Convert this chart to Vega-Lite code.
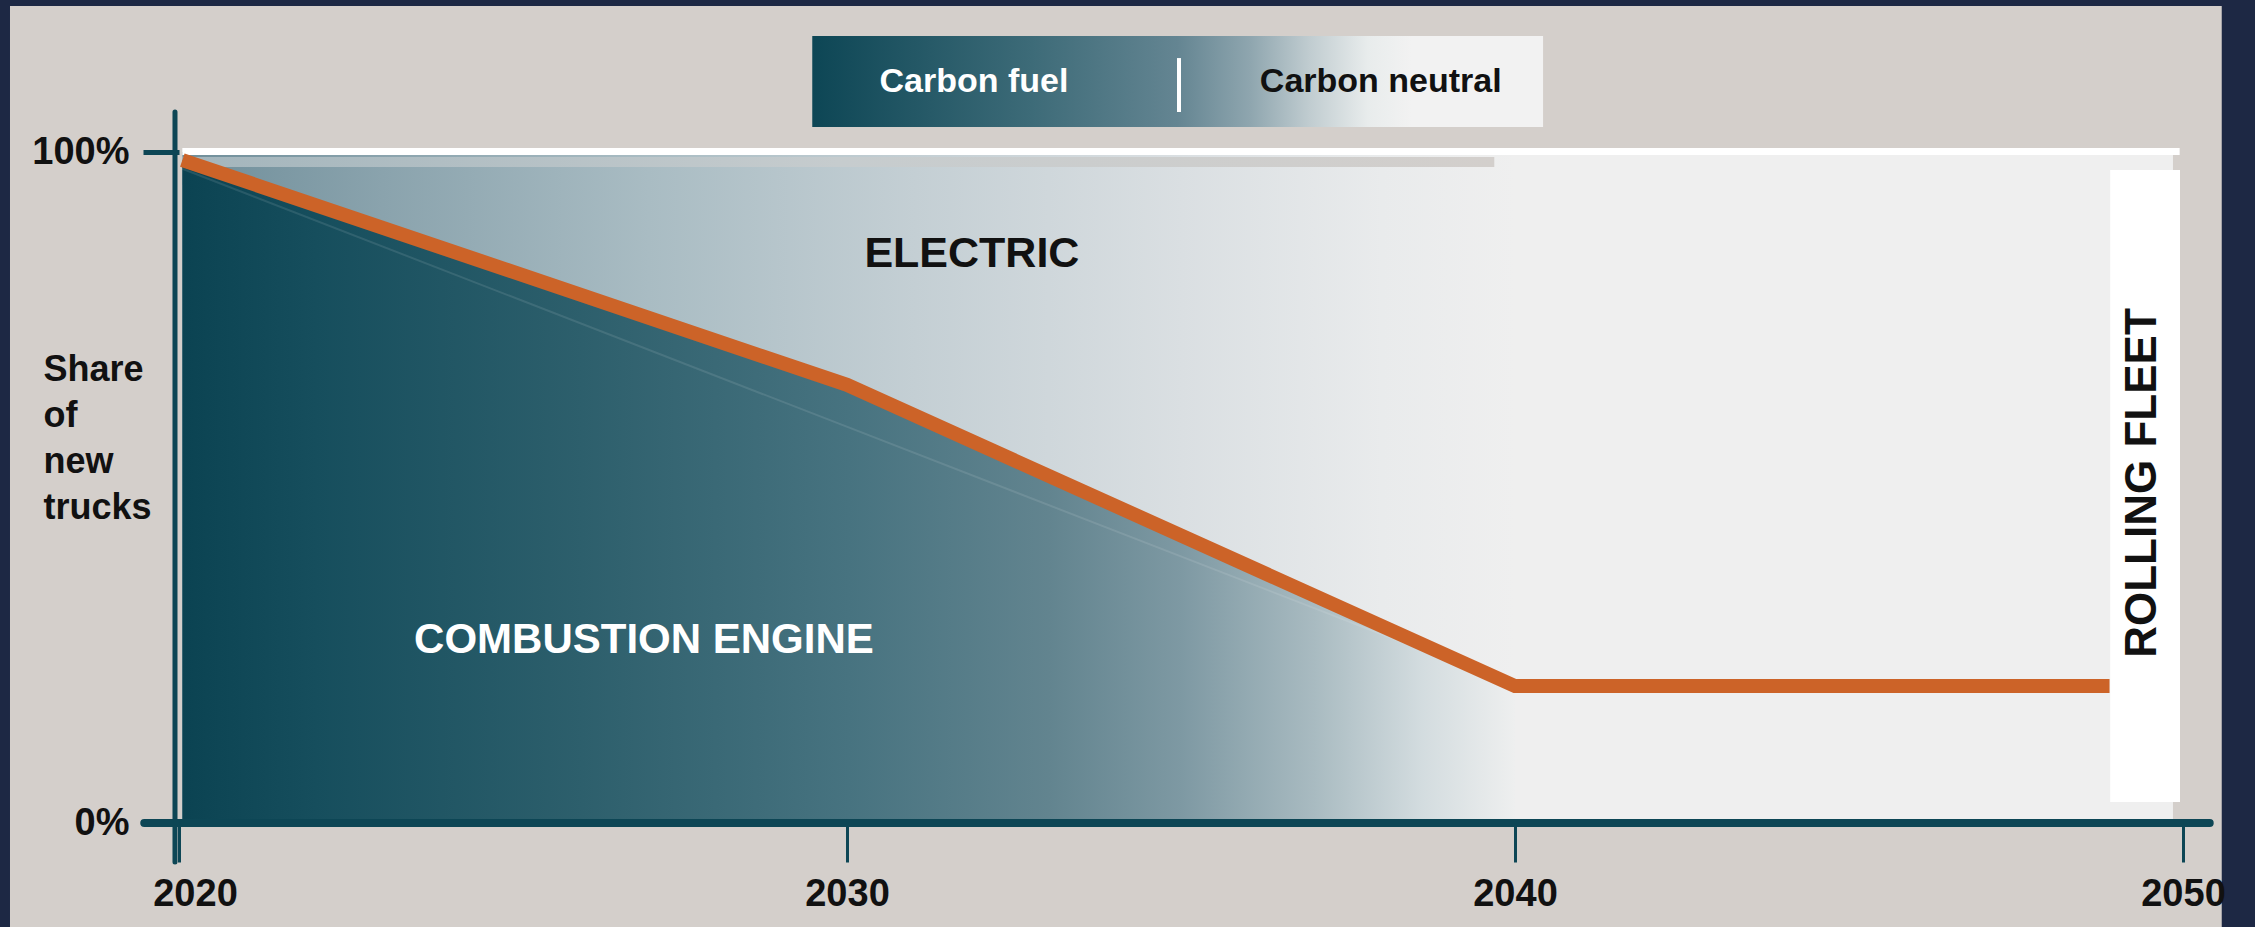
{
  "$schema": "https://vega.github.io/schema/vega-lite/v6.json",
  "width": 2004,
  "height": 671,
  "autosize": {"type": "none"},
  "padding": {"left": 179, "top": 152, "right": 72, "bottom": 104},
  "background": "#1d2844",
  "config": {
    "view": {"stroke": null},
    "font": "Liberation Sans"
  },
  "datasets": {
    "combustion": [
      {"year": 2020.05, "share": 98.8},
      {"year": 2030, "share": 65.3},
      {"year": 2040, "share": 20.4}
    ],
    "orange": [
      {"year": 2020.05, "share": 98.8},
      {"year": 2030, "share": 65.3},
      {"year": 2040, "share": 20.4},
      {"year": 2048.9, "share": 20.4}
    ],
    "chord": [
      {"year": 2020.05, "share": 97.5},
      {"year": 2040, "share": 20.4}
    ]
  },
  "layer": [
    {
      "data": {"values": [{}]},
      "mark": {"type": "rect", "color": "#d4cfcb"},
      "encoding": {
        "x": {"datum": 2017.47, "type": "quantitative"},
        "x2": {"datum": 2050.58},
        "y": {"datum": 121.76, "type": "quantitative"},
        "y2": {"datum": -15.6}
      }
    },
    {
      "data": {"values": [{}]},
      "mark": {"type": "rect", "color": "#efefef"},
      "encoding": {
        "x": {"datum": 2020.05, "type": "quantitative"},
        "x2": {"datum": 2049.85},
        "y": {"datum": 100, "type": "quantitative"},
        "y2": {"datum": 0}
      }
    },
    {
      "data": {"values": [{}]},
      "mark": {
        "type": "rect",
        "color": {
          "gradient": "linear", "x1": 0, "y1": 0, "x2": 1, "y2": 0,
          "stops": [
            {"offset": 0, "color": "#6f8e9a"},
            {"offset": 0.15, "color": "#8aa3ad"},
            {"offset": 0.35, "color": "#a9bcc3"},
            {"offset": 0.55, "color": "#c4cfd4"},
            {"offset": 0.75, "color": "#dadfe2"},
            {"offset": 0.9, "color": "#e9ebec"},
            {"offset": 1, "color": "#efefef"}
          ]
        }
      },
      "encoding": {
        "x": {"datum": 2020.05, "type": "quantitative"},
        "x2": {"datum": 2040},
        "y": {"datum": 100, "type": "quantitative"},
        "y2": {"datum": 0}
      }
    },
    {
      "data": {"name": "combustion"},
      "mark": {
        "type": "area",
        "color": {
          "gradient": "linear", "x1": 0, "y1": 0, "x2": 1, "y2": 0,
          "stops": [
            {"offset": 0, "color": "#0b4352"},
            {"offset": 0.1, "color": "#164e5d"},
            {"offset": 0.3, "color": "#2d5f6c"},
            {"offset": 0.5, "color": "#477380"},
            {"offset": 0.65, "color": "#62848f"},
            {"offset": 0.75, "color": "#7e99a3"},
            {"offset": 0.85, "color": "#a9bbc1"},
            {"offset": 0.93, "color": "#d3dcdf"},
            {"offset": 1, "color": "#eeefef"}
          ]
        }
      },
      "encoding": {
        "x": {"field": "year", "type": "quantitative"},
        "y": {"field": "share", "type": "quantitative"}
      }
    },
    {
      "data": {"name": "chord"},
      "mark": {"type": "line", "color": "#ffffff", "opacity": 0.1, "strokeWidth": 2},
      "encoding": {
        "x": {"field": "year", "type": "quantitative"},
        "y": {"field": "share", "type": "quantitative"}
      }
    },
    {
      "data": {"values": [{}]},
      "mark": {
        "type": "rect",
        "color": {
          "gradient": "linear", "x1": 0, "y1": 0, "x2": 1, "y2": 0,
          "stops": [
            {"offset": 0, "color": "#a3b5bc"},
            {"offset": 0.5, "color": "#c6ccce"},
            {"offset": 1, "color": "#d3cfcc"}
          ]
        }
      },
      "encoding": {
        "x": {"datum": 2020.05, "type": "quantitative"},
        "x2": {"datum": 2039.69},
        "y": {"datum": 99.25, "type": "quantitative"},
        "y2": {"datum": 97.76}
      }
    },
    {
      "data": {"values": [{}]},
      "mark": {"type": "rule", "color": "#ffffff", "strokeWidth": 7},
      "encoding": {
        "x": {"datum": 2020.05, "type": "quantitative"},
        "x2": {"datum": 2049.95},
        "y": {"datum": 100.07, "type": "quantitative"}
      }
    },
    {
      "data": {"values": [{}]},
      "mark": {"type": "rect", "color": "#ffffff"},
      "encoding": {
        "x": {"datum": 2048.91, "type": "quantitative"},
        "x2": {"datum": 2049.955},
        "y": {"datum": 97.32, "type": "quantitative"},
        "y2": {"datum": 3.13}
      }
    },
    {
      "data": {"name": "orange"},
      "mark": {"type": "line", "color": "#cc6328", "strokeWidth": 14, "strokeCap": "butt", "strokeJoin": "miter"},
      "encoding": {
        "x": {
          "field": "year",
          "type": "quantitative",
          "scale": {"domain": [2020, 2050], "nice": false, "zero": false},
          "axis": {
            "zindex": 3,
            "values": [2020, 2030, 2040, 2050],
            "format": "d",
            "title": "",
            "domain": false,
            "grid": false,
            "ticks": true,
            "tickSize": 39,
            "tickWidth": 3,
            "tickColor": "#0d4655",
            "labelFont": "Liberation Sans",
            "labelFontSize": 38,
            "labelFontWeight": "bold",
            "labelColor": "#111111",
            "labelPadding": 13,
            "labelFlush": false,
            "labelAlign": "center",
            "labelOffset": {"condition": {"test": "datum.value == 2020", "value": 16}, "value": 0}
          }
        },
        "y": {
          "field": "share",
          "type": "quantitative",
          "scale": {"domain": [0, 100], "nice": false, "zero": false},
          "axis": {
            "zindex": 3,
            "values": [0, 100],
            "labelExpr": "datum.value + '%'",
            "domain": false,
            "grid": false,
            "ticks": true,
            "tickSize": 36,
            "tickWidth": 5,
            "tickColor": "#0d4655",
            "labelFont": "Liberation Sans",
            "labelFontSize": 38,
            "labelFontWeight": "bold",
            "labelColor": "#111111",
            "labelPadding": 14,
            "labelFlush": false,
            "title": ["Share", "of", "new", "trucks"],
            "titleFont": "Liberation Sans",
            "titleAngle": 0,
            "titleAlign": "left",
            "titleBaseline": "alphabetic",
            "titleX": -136,
            "titleY": 228,
            "titleFontSize": 36,
            "titleLineHeight": 46,
            "titleFontWeight": "bold",
            "titleColor": "#111111"
          }
        }
      }
    },
    {
      "data": {"values": [{}]},
      "mark": {"type": "rule", "color": "#0d4655", "strokeWidth": 5, "strokeCap": "round"},
      "encoding": {
        "x": {"datum": 2019.94, "type": "quantitative"},
        "y": {"datum": 105.96, "type": "quantitative"},
        "y2": {"datum": -5.81}
      }
    },
    {
      "data": {"values": [{}]},
      "mark": {"type": "rule", "color": "#0d4655", "strokeWidth": 8, "strokeCap": "round"},
      "encoding": {
        "x": {"datum": 2019.48, "type": "quantitative"},
        "x2": {"datum": 2050.4},
        "y": {"datum": 0, "type": "quantitative"}
      }
    },
    {
      "data": {"values": [{"label": "ELECTRIC", "year": 2031.87, "share": 84.8}]},
      "mark": {"type": "text", "font": "Liberation Sans", "fontWeight": "bold", "fontSize": 43, "color": "#111111", "align": "center", "baseline": "middle"},
      "encoding": {
        "x": {"field": "year", "type": "quantitative"},
        "y": {"field": "share", "type": "quantitative"},
        "text": {"field": "label"}
      }
    },
    {
      "data": {"values": [{"label": "COMBUSTION ENGINE", "year": 2026.96, "share": 27.27}]},
      "mark": {"type": "text", "font": "Liberation Sans", "fontWeight": "bold", "fontSize": 42, "color": "#ffffff", "align": "center", "baseline": "middle"},
      "encoding": {
        "x": {"field": "year", "type": "quantitative"},
        "y": {"field": "share", "type": "quantitative"},
        "text": {"field": "label"}
      }
    },
    {
      "data": {"values": [{"label": "ROLLING  FLEET", "year": 2049.4, "share": 50.67}]},
      "mark": {"type": "text", "font": "Liberation Sans", "fontWeight": "bold", "fontSize": 44, "color": "#111111", "align": "center", "baseline": "middle", "angle": 270},
      "encoding": {
        "x": {"field": "year", "type": "quantitative"},
        "y": {"field": "share", "type": "quantitative"},
        "text": {"field": "label"}
      }
    },
    {
      "data": {"values": [{}]},
      "mark": {
        "type": "rect",
        "color": {
          "gradient": "linear", "x1": 0, "y1": 0, "x2": 1, "y2": 0,
          "stops": [
            {"offset": 0, "color": "#0d4655"},
            {"offset": 0.3, "color": "#3d6b78"},
            {"offset": 0.5, "color": "#648592"},
            {"offset": 0.6, "color": "#8fa6af"},
            {"offset": 0.68, "color": "#c0ccd0"},
            {"offset": 0.76, "color": "#e8ecec"},
            {"offset": 0.82, "color": "#f2f2f2"},
            {"offset": 1, "color": "#f2f2f2"}
          ]
        }
      },
      "encoding": {
        "x": {"datum": 2029.48, "type": "quantitative"},
        "x2": {"datum": 2040.42},
        "y": {"datum": 117.29, "type": "quantitative"},
        "y2": {"datum": 103.73}
      }
    },
    {
      "data": {"values": [{}]},
      "mark": {"type": "rule", "color": "#ffffff", "strokeWidth": 4},
      "encoding": {
        "x": {"datum": 2034.97, "type": "quantitative"},
        "y": {"datum": 114.0, "type": "quantitative"},
        "y2": {"datum": 105.96}
      }
    },
    {
      "data": {"values": [{"label": "Carbon fuel", "year": 2031.9, "share": 110.43}]},
      "mark": {"type": "text", "font": "Liberation Sans", "fontWeight": "bold", "fontSize": 34, "color": "#ffffff", "align": "center", "baseline": "middle"},
      "encoding": {
        "x": {"field": "year", "type": "quantitative"},
        "y": {"field": "share", "type": "quantitative"},
        "text": {"field": "label"}
      }
    },
    {
      "data": {"values": [{"label": "Carbon neutral", "year": 2037.99, "share": 110.43}]},
      "mark": {"type": "text", "font": "Liberation Sans", "fontWeight": "bold", "fontSize": 34, "color": "#111111", "align": "center", "baseline": "middle"},
      "encoding": {
        "x": {"field": "year", "type": "quantitative"},
        "y": {"field": "share", "type": "quantitative"},
        "text": {"field": "label"}
      }
    }
  ]
}
